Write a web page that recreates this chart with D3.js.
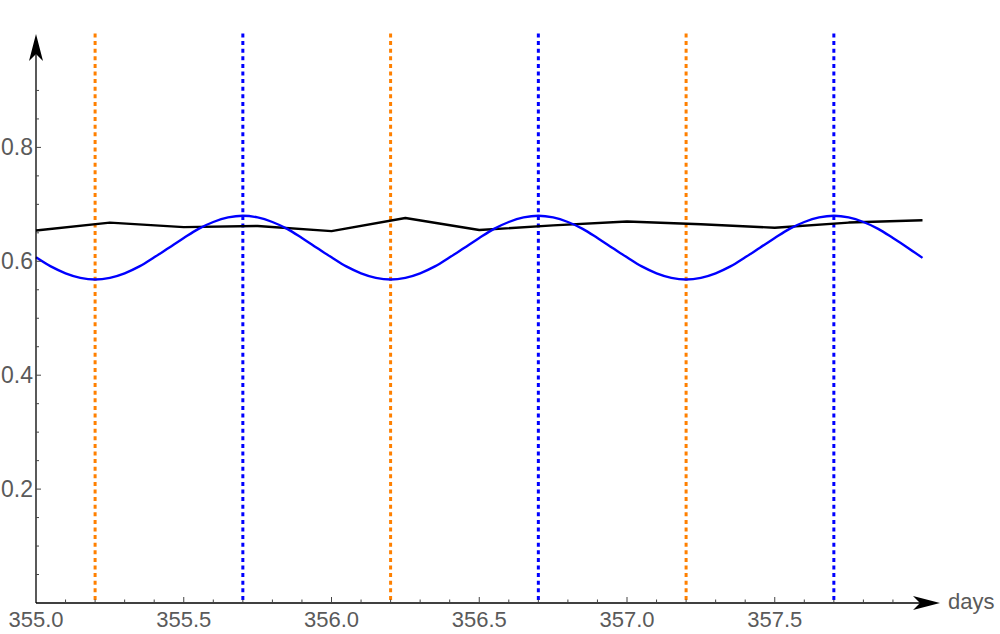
<!DOCTYPE html>
<html>
<head>
<meta charset="utf-8">
<script src="https://cdn.jsdelivr.net/npm/d3@7"></script>
<style>
html,body{margin:0;padding:0;background:#fff;}
svg{display:block;}
text{font-family:"Liberation Sans",Arial,sans-serif;fill:#5a5a5a;}
</style>
</head>
<body>
<svg id="chart" width="1000" height="634"></svg>
<script>
// ---- data ----
const xMajorTicks = [355.0, 355.5, 356.0, 356.5, 357.0, 357.5];
const xTickLabels = ["355.0", "355.5", "356.0", "356.5", "357.0", "357.5"];
const yMajorTicks = [0.2, 0.4, 0.6, 0.8];
const yTickLabels = ["0.2", "0.4", "0.6", "0.8"];
const xAxisLabel = "days";

const orangeMarkers = [355.2, 356.2, 357.2];
const blueMarkers = [355.7, 356.7, 357.7];

// black polyline (quarter-day points)
const blackX = [355.00, 355.25, 355.50, 355.75, 356.00, 356.25, 356.50, 356.75, 357.00, 357.25, 357.50, 357.75, 358.00];
const blackY = [0.654, 0.668, 0.660, 0.662, 0.653, 0.676, 0.655, 0.663, 0.670, 0.665, 0.659, 0.668, 0.672];

// blue curve sampled every 0.05 day from 355.00 to 358.00
const blueStart = 355.0, blueStep = 0.05;
const blueY = [
  0.607,0.591,0.579,0.571,0.568,0.571,0.579,0.591,0.607,0.624,0.641,0.657,0.669,0.677,0.680,0.677,0.669,0.657,0.641,0.624,
  0.607,0.591,0.579,0.571,0.568,0.571,0.579,0.591,0.607,0.624,0.641,0.657,0.669,0.677,0.680,0.677,0.669,0.657,0.641,0.624,
  0.607,0.591,0.579,0.571,0.568,0.571,0.579,0.591,0.607,0.624,0.641,0.657,0.669,0.677,0.680,0.677,0.669,0.657,0.641,0.624,
  0.606
];

// ---- scales ----
const svg = d3.select("#chart");
const x = d3.scaleLinear().domain([355, 358]).range([36, 922.5]);
const y = d3.scaleLinear().domain([0, 1]).range([603, 33.5]);

// dotted marker lines
const markers = svg.append("g");
markers.selectAll("line.o").data(orangeMarkers).enter().append("line")
  .attr("x1", d => x(d)).attr("x2", d => x(d))
  .attr("y1", y(1)).attr("y2", y(0))
  .attr("stroke", "rgb(255,128,0)").attr("stroke-width", 3)
  .attr("stroke-dasharray", "4,3.6");
markers.selectAll("line.b").data(blueMarkers).enter().append("line")
  .attr("x1", d => x(d)).attr("x2", d => x(d))
  .attr("y1", y(1)).attr("y2", y(0))
  .attr("stroke", "rgb(0,0,255)").attr("stroke-width", 3)
  .attr("stroke-dasharray", "4,3.6");

// black line
const blackData = blackX.map((d, i) => [d, blackY[i]]);
svg.append("path").datum(blackData)
  .attr("fill", "none").attr("stroke", "#000").attr("stroke-width", 2.4)
  .attr("stroke-linejoin", "round")
  .attr("d", d3.line().x(d => x(d[0])).y(d => y(d[1])));

// blue curve
const blueData = blueY.map((v, i) => [blueStart + i * blueStep, v]);
svg.append("path").datum(blueData)
  .attr("fill", "none").attr("stroke", "rgb(0,0,255)").attr("stroke-width", 2.4)
  .attr("d", d3.line().x(d => x(d[0])).y(d => y(d[1])).curve(d3.curveCatmullRom));

// ---- axes ----
const axes = svg.append("g");
// x axis line
axes.append("line").attr("x1", 36).attr("x2", 925).attr("y1", 603).attr("y2", 603)
  .attr("stroke", "#000").attr("stroke-width", 1.3);
// y axis line
axes.append("line").attr("x1", 36).attr("x2", 36).attr("y1", 603).attr("y2", 50)
  .attr("stroke", "#000").attr("stroke-width", 1.3);

// arrowheads
const xTip = 940, yTip = 34;
axes.append("path")
  .attr("d", `M${xTip},603 L${xTip - 27},596 L${xTip - 20},603 L${xTip - 27},610 Z`)
  .attr("fill", "#000");
axes.append("path")
  .attr("d", `M36,${yTip} L29,${yTip + 27} L36,${yTip + 20} L43,${yTip + 27} Z`)
  .attr("fill", "#000");

// x ticks
const xMinor = d3.range(0, 30).map(i => 355 + i * 0.1).filter(v => !xMajorTicks.some(m => Math.abs(m - v) < 1e-6));
axes.selectAll("line.xmin").data(xMinor).enter().append("line")
  .attr("x1", d => x(d)).attr("x2", d => x(d)).attr("y1", 603).attr("y2", 599.5)
  .attr("stroke", "#444").attr("stroke-width", 1);
axes.selectAll("line.xmaj").data(xMajorTicks.slice(1)).enter().append("line")
  .attr("x1", d => x(d)).attr("x2", d => x(d)).attr("y1", 603).attr("y2", 597)
  .attr("stroke", "#444").attr("stroke-width", 1);
axes.selectAll("text.xl").data(xMajorTicks).enter().append("text")
  .attr("x", d => x(d)).attr("y", 627)
  .attr("text-anchor", "middle").attr("font-size", 22)
  .text((d, i) => xTickLabels[i]);
axes.append("text").attr("x", 948).attr("y", 609)
  .attr("font-size", 22).text(xAxisLabel);

// y ticks
const yMinor = d3.range(1, 19).map(i => i * 0.05).filter(v => !yMajorTicks.some(m => Math.abs(m - v) < 1e-6));
axes.selectAll("line.ymin").data(yMinor).enter().append("line")
  .attr("x1", 36).attr("x2", 39).attr("y1", d => y(d)).attr("y2", d => y(d))
  .attr("stroke", "#444").attr("stroke-width", 1);
axes.selectAll("line.ymaj").data(yMajorTicks).enter().append("line")
  .attr("x1", 36).attr("x2", 41).attr("y1", d => y(d)).attr("y2", d => y(d))
  .attr("stroke", "#444").attr("stroke-width", 1);
axes.selectAll("text.yl").data(yMajorTicks).enter().append("text")
  .attr("x", 33).attr("y", d => y(d) + 8)
  .attr("text-anchor", "end").attr("font-size", 23)
  .text((d, i) => yTickLabels[i]);
</script>
</body>
</html>
